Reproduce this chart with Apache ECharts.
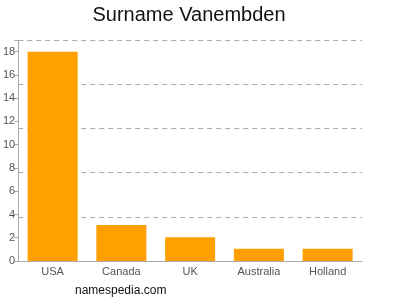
<!DOCTYPE html>
<html><head><meta charset="utf-8">
<script src="https://cdn.jsdelivr.net/npm/echarts@6/dist/echarts.min.js"></script>
<style>html,body{margin:0;padding:0;background:#fff}#c{width:400px;height:300px}</style>
</head><body><div id="c"></div>
<script>
var categories = ["USA", "Canada", "UK", "Australia", "Holland"];
var values = [18, 3.1, 2.05, 1.05, 1.05];
var yTicks = [0, 2, 4, 6, 8, 10, 12, 14, 16, 18];
var titleText = "Surname Vanembden";
var footerText = "namespedia.com";

var chart = echarts.init(document.getElementById('c'), null, {renderer: 'canvas'});
chart.setOption({
  animation: false,
  backgroundColor: '#fff',
  title: [
    {text: titleText, left: 189, top: 5, textAlign: 'center', padding: 0,
     textStyle: {fontFamily: 'Liberation Sans, Arial, sans-serif', fontSize: 20, fontWeight: 'normal', color: '#111'}},
    {text: footerText, left: 75, top: 285, padding: 0,
     textStyle: {fontFamily: 'Liberation Sans, Arial, sans-serif', fontSize: 12, fontWeight: 'normal', color: '#111'}}
  ],
  grid: {left: 17, right: 38, top: 40, bottom: 39, containLabel: false},
  xAxis: {
    type: 'category', data: categories,
    axisLine: {lineStyle: {color: '#aaa'}},
    axisTick: {show: false},
    axisLabel: {color: '#555', fontSize: 11, fontFamily: 'Liberation Sans, Arial, sans-serif', margin: 5}
  },
  yAxis: [
    {type: 'value', min: 0, max: 19, interval: 2,
     axisLine: {show: true, lineStyle: {color: '#aaa'}},
     axisTick: {show: true, length: 4, lineStyle: {color: '#aaa'}},
     axisLabel: {color: '#555', fontSize: 11, fontFamily: 'Liberation Sans, Arial, sans-serif', margin: 3,
       formatter: function (v) { return yTicks.indexOf(v) >= 0 ? String(v) : ''; }},
     splitLine: {show: false}},
    {type: 'value', min: 0, max: 19, interval: 3.8, position: 'left',
     axisLine: {show: false}, axisTick: {show: false}, axisLabel: {show: false},
     splitLine: {show: true, lineStyle: {color: '#aaa', type: [5, 4], width: 1}}}
  ],
  series: [{
    type: 'bar', data: values, yAxisIndex: 0,
    barWidth: 50,
    itemStyle: {color: '#FFA000'}
  }]
});
</script></body></html>
